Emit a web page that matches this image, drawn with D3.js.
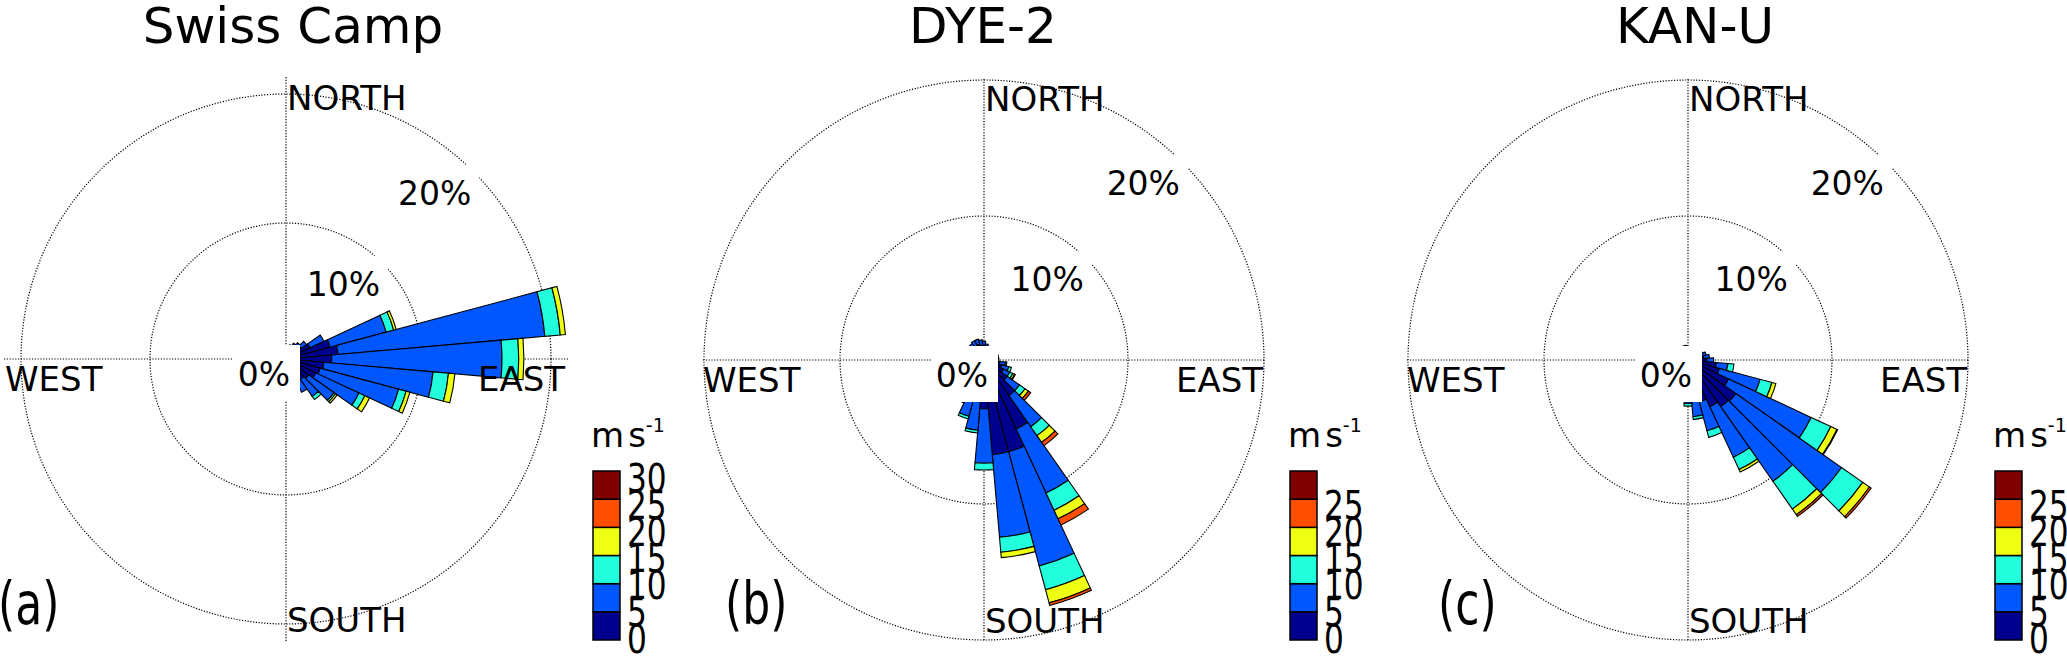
<!DOCTYPE html>
<html>
<head>
<meta charset="utf-8">
<script src="https://cdn.jsdelivr.net/npm/d3@7.9.0/dist/d3.min.js"></script>
<style>
  html, body { margin: 0; padding: 0; background: #fff; }
  svg { display: block; font-family: "DejaVu Sans", sans-serif; }
</style>
</head>
<body>
<svg id="chart" width="2067" height="656"></svg>
<script>
// wind direction sectors (degrees from north), 10 degree bins
const directions = [0, 10, 20, 30, 40, 50, 60, 70, 80, 90, 100, 110, 120, 130, 140, 150, 160, 170,
  180, 190, 200, 210, 220, 230, 240, 250, 260, 270, 280, 290, 300, 310, 320, 330, 340, 350];
const speedBins = ['0-5', '5-10', '10-15', '15-20', '20-25', '25-30'];
const binColors = ['#00008f', '#0057ff', '#22ffdd', '#eeff11', '#ff4e00', '#800000'];
const ringLabels = [10, 20];

// Swiss Camp, % of time per sector and speed class
const swiss_0_5 = [0.3, 0.3, 0.4, 0.5, 0.7, 0.9, 1.5, 3.0, 3.5, 3.0, 2.4, 2.2, 2.0, 1.6, 1.4, 1.2, 1.0, 0.8,
  0.6, 0.5, 0.3, 0.3, 0.3, 0.3, 0.3, 0.3, 0.3, 0.3, 0.3, 0.3, 0.2, 0.2, 0.2, 0.2, 0.2, 0.2];
const swiss_5_10 = [0.2, 0.2, 0.2, 0.3, 0.3, 0.5, 1.2, 4.5, 16.1, 13.2, 8.5, 6.3, 3.7, 2.4, 1.6, 1.1, 1.0, 0.7,
  0.6, 0.4, 0.2, 0.2, 0.2, 0.2, 0.2, 0.2, 0.2, 0.2, 0.2, 0.2, 0.1, 0.1, 0.1, 0.1, 0.1, 0.1];
const swiss_10_15 = [0, 0, 0, 0, 0, 0, 0, 0.6, 1.2, 1.3, 1.2, 0.6, 0.5, 0.15, 0.3, 0, 0, 0,
  0, 0, 0, 0, 0, 0, 0, 0, 0, 0, 0, 0, 0, 0, 0, 0, 0, 0];
const swiss_15_20 = [0, 0, 0, 0, 0, 0, 0, 0.2, 0.4, 0.4, 0.5, 0.3, 0.4, 0.15, 0, 0, 0, 0,
  0, 0, 0, 0, 0, 0, 0, 0, 0, 0, 0, 0, 0, 0, 0, 0, 0, 0];
const swiss_20_25 = [0, 0, 0, 0, 0, 0, 0, 0, 0, 0, 0, 0, 0, 0, 0, 0, 0, 0,
  0, 0, 0, 0, 0, 0, 0, 0, 0, 0, 0, 0, 0, 0, 0, 0, 0, 0];
const swiss_25_30 = [0, 0, 0, 0, 0, 0, 0, 0, 0, 0, 0, 0, 0, 0, 0, 0, 0, 0,
  0, 0, 0, 0, 0, 0, 0, 0, 0, 0, 0, 0, 0, 0, 0, 0, 0, 0];

// DYE-2
const dye2_0_5 = [0.5, 0.4, 0.3, 0.3, 0.3, 0.3, 0.3, 0.3, 0.3, 0.3, 0.6, 0.8, 1.0, 1.5, 2.6, 5.0, 6.4, 6.4,
  3.0, 2.5, 2.0, 1.5, 1.2, 0.8, 0.6, 0.4, 0.4, 0.4, 0.4, 0.4, 0.4, 0.4, 0.5, 0.6, 0.6, 0.5];
const dye2_5_10 = [0.3, 0.2, 0.2, 0.2, 0.2, 0.2, 0.2, 0.2, 0.2, 0.2, 0.4, 0.5, 0.5, 1.1, 2.8, 5.2, 8.7, 6.1,
  4.0, 2.1, 1.7, 1.2, 0.8, 0.5, 0.4, 0.3, 0.3, 0.3, 0.3, 0.3, 0.3, 0.3, 0.4, 0.4, 0.4, 0.4];
const dye2_10_15 = [0, 0, 0, 0, 0, 0, 0, 0, 0, 0, 0.1, 0.2, 0.25, 0.5, 0.8, 1.4, 1.8, 1.1,
  0.5, 0.2, 0.2, 0.2, 0, 0, 0, 0, 0, 0, 0, 0, 0, 0, 0, 0, 0, 0];
const dye2_15_20 = [0, 0, 0, 0, 0, 0, 0, 0, 0, 0, 0, 0, 0.15, 0.3, 0.6, 0.7, 1.0, 0.4,
  0, 0, 0, 0, 0, 0, 0, 0, 0, 0, 0, 0, 0, 0, 0, 0, 0, 0];
const dye2_20_25 = [0, 0, 0, 0, 0, 0, 0, 0, 0, 0, 0, 0, 0.05, 0.2, 0.3, 0.5, 0.2, 0,
  0, 0, 0, 0, 0, 0, 0, 0, 0, 0, 0, 0, 0, 0, 0, 0, 0, 0];
const dye2_25_30 = [0, 0, 0, 0, 0, 0, 0, 0, 0, 0, 0, 0, 0, 0, 0, 0, 0, 0,
  0, 0, 0, 0, 0, 0, 0, 0, 0, 0, 0, 0, 0, 0, 0, 0, 0, 0];

// KAN-U
const kanu_0_5 = [0.2, 0.2, 0.2, 0.2, 0.2, 0.2, 0.4, 0.5, 0.6, 0.8, 1.5, 1.8, 2.7, 3.7, 3.6, 3.2, 2.6, 2.0,
  1.5, 1.2, 0.8, 0.3, 0.3, 0.3, 0.3, 0.3, 0.3, 0.3, 0.3, 0.3, 0.3, 0.3, 0.3, 0.3, 0.3, 0.3];
const kanu_5_10 = [0.1, 0.1, 0.1, 0.1, 0.1, 0.1, 0.2, 0.3, 0.4, 0.5, 0.85, 3.1, 6.7, 9.5, 6.7, 4.1, 2.2, 1.6,
  1.1, 1.0, 0.6, 0.2, 0.2, 0.2, 0.2, 0.2, 0.2, 0.2, 0.2, 0.2, 0.2, 0.2, 0.2, 0.2, 0.2, 0.2];
const kanu_10_15 = [0, 0, 0, 0, 0, 0, 0, 0, 0, 0, 0.45, 0.9, 1.6, 1.9, 2.5, 1.0, 0.5, 0.2,
  0.2, 0, 0, 0, 0, 0, 0, 0, 0, 0, 0, 0, 0, 0, 0, 0, 0, 0];
const kanu_15_20 = [0, 0, 0, 0, 0, 0, 0, 0, 0, 0, 0, 0.3, 0.5, 0.6, 0.5, 0.2, 0, 0,
  0, 0, 0, 0, 0, 0, 0, 0, 0, 0, 0, 0, 0, 0, 0, 0, 0, 0];
const kanu_20_25 = [0, 0, 0, 0, 0, 0, 0, 0, 0, 0, 0, 0, 0.05, 0.15, 0.15, 0, 0, 0,
  0, 0, 0, 0, 0, 0, 0, 0, 0, 0, 0, 0, 0, 0, 0, 0, 0, 0];
const kanu_25_30 = [0, 0, 0, 0, 0, 0, 0, 0, 0, 0, 0, 0, 0, 0, 0, 0, 0, 0,
  0, 0, 0, 0, 0, 0, 0, 0, 0, 0, 0, 0, 0, 0, 0, 0, 0, 0];

const legendTicksA = [30, 25, 20, 15, 10, 5, 0];
const legendTicksBC = [25, 20, 15, 10, 5, 0];

const panels = [
  { title: 'Swiss Camp', tag: '(a)', cx: 286, cy: 359, r10: 136, r20: 265, axisR: 282,
    titleX: 293, tagX: -2, legendX: 593, ticks: legendTicksA,
    series: [swiss_0_5, swiss_5_10, swiss_10_15, swiss_15_20, swiss_20_25, swiss_25_30] },
  { title: 'DYE-2', tag: '(b)', cx: 984, cy: 360, r10: 144, r20: 280, axisR: 281,
    titleX: 983, tagX: 725, legendX: 1290, ticks: legendTicksBC,
    series: [dye2_0_5, dye2_5_10, dye2_10_15, dye2_15_20, dye2_20_25, dye2_25_30] },
  { title: 'KAN-U', tag: '(c)', cx: 1688, cy: 360, r10: 144, r20: 280, axisR: 281,
    titleX: 1695, tagX: 1438, legendX: 1995, ticks: legendTicksBC,
    series: [kanu_0_5, kanu_5_10, kanu_10_15, kanu_15_20, kanu_20_25, kanu_25_30] }
];

const svg = d3.select('#chart');
const half = Math.PI / 36; // half of a 10 degree sector

const dotted = sel => sel
  .attr('fill', 'none')
  .attr('stroke', '#000')
  .attr('stroke-width', 1.2)
  .attr('stroke-dasharray', '1.2,1.6');

panels.forEach(p => {
  const g = svg.append('g').attr('transform', `translate(${p.cx},${p.cy})`);
  const r = d3.scaleLinear().domain([10, 20]).range([p.r10, p.r20]);

  // grid rings and axes
  g.selectAll('circle.ring').data(ringLabels).join('circle')
    .attr('class', 'ring').attr('r', d => r(d)).call(dotted);
  g.append('line').attr('x1', -p.axisR).attr('x2', p.axisR).attr('y1', 0).attr('y2', 0).call(dotted);
  g.append('line').attr('y1', -p.axisR).attr('y2', p.axisR).attr('x1', 0).attr('x2', 0).call(dotted);

  // stacked bars per sector
  let rows = directions.map((dir, i) => {
    let row = { dir: dir };
    speedBins.forEach((b, k) => row[b] = p.series[k][i]);
    return row;
  });
  let stacked = d3.stack().keys(speedBins)(rows);

  let arc = d3.arc()
    .innerRadius(d => d[0] === 0 ? 0 : r(d[0]))
    .outerRadius(d => r(d[1]))
    .startAngle(d => d.data.dir * Math.PI / 180 - half)
    .endAngle(d => d.data.dir * Math.PI / 180 + half);

  stacked.forEach((s, k) => {
    g.append('g').selectAll('path')
      .data(s.filter(d => d[1] - d[0] > 0))
      .join('path')
      .attr('d', arc)
      .attr('fill', binColors[k])
      .attr('stroke', '#000')
      .attr('stroke-width', 1.1);
  });

  // compass labels
  const compass = [
    { t: 'NORTH', x: 1, y: -249, a: 'start' },
    { t: 'SOUTH', x: 1, y: 273, a: 'start' },
    { t: 'WEST', x: -281, y: 32, a: 'start' },
    { t: 'EAST', x: 279, y: 32, a: 'end' }
  ];
  compass.forEach(c => {
    g.append('text').attr('x', c.x).attr('y', c.y).attr('text-anchor', c.a)
      .attr('font-size', 34).text(c.t);
  });

  // ring labels with white boxes
  ringLabels.forEach(v => {
    let px = r(v) * Math.SQRT1_2, py = -r(v) * Math.SQRT1_2;
    let t = g.append('text').attr('x', px - 2).attr('y', py + 33)
      .attr('text-anchor', 'end').attr('font-size', 33).text(v + '%');
    let bb = t.node().getBBox();
    g.insert('rect', () => t.node())
      .attr('x', bb.x - 4).attr('y', py - 7)
      .attr('width', px + 6 - (bb.x - 4)).attr('height', 52)
      .attr('fill', '#fff');
  });

  // centre label
  g.append('rect').attr('x', -53).attr('y', -14).attr('width', 67).attr('height', 56).attr('fill', '#fff');
  g.append('text').attr('x', 4).attr('y', 27).attr('text-anchor', 'end').attr('font-size', 33).text('0%');

  // title and panel tag
  svg.append('text').attr('x', p.titleX).attr('y', 43).attr('text-anchor', 'middle')
    .attr('font-size', 50).text(p.title);
  svg.append('text').attr('transform', `translate(${p.tagX},624) scale(0.76,1)`)
    .attr('font-size', 58).text(p.tag);

  // colour legend
  let lg = svg.append('g');
  let boxY = d3.scaleLinear().domain([0, 30]).range([640, 471]);
  let tickY = d3.scaleLinear().domain([0, 30]).range([652.5, 492]);
  speedBins.forEach((b, k) => {
    lg.append('rect')
      .attr('x', p.legendX).attr('y', boxY(5 * k + 5))
      .attr('width', 27).attr('height', boxY(5 * k) - boxY(5 * k + 5))
      .attr('fill', binColors[k]).attr('stroke', '#000').attr('stroke-width', 1.5);
  });
  p.ticks.forEach(v => {
    lg.append('text')
      .attr('transform', `translate(${p.legendX + 34},${tickY(v)}) scale(0.8,1)`)
      .attr('font-size', 39).text(v);
  });
  let unit = lg.append('text').attr('x', p.legendX - 2).attr('y', 447).attr('font-size', 34);
  unit.append('tspan').text('m');
  unit.append('tspan').attr('dx', 4).text('s');
  unit.append('tspan').attr('dy', -15).attr('font-size', 19).text('-1');
});
</script>
</body>
</html>
